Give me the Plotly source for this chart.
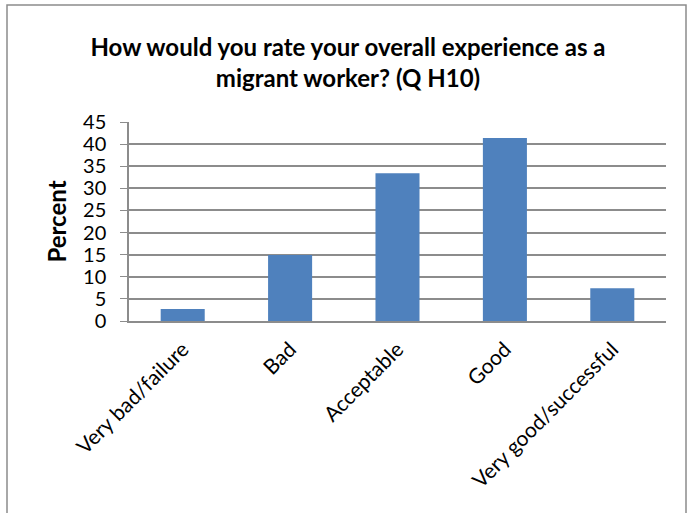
import plotly.graph_objects as go

categories = ["Very bad/failure", "Bad", "Acceptable", "Good", "Very good/successful"]
percent = [2.7, 14.9, 33.4, 41.4, 7.4]
y_ticks = [0, 5, 10, 15, 20, 25, 30, 35, 40, 45]

W, H = 687, 513
ml, mr, mt, mb = 129, 21, 122, 192

fig = go.Figure(go.Bar(x=categories, y=percent, marker=dict(color="#4F81BD", line=dict(width=0)),
                       hoverinfo="skip"))

pw = W - ml - mr
ph = H - mt - mb
# outer chart frame
fig.add_shape(type="rect", xref="paper", yref="paper",
              x0=(7 - ml) / pw, x1=(686 - ml) / pw,
              y0=-(mb + 20) / ph, y1=(H - 5 - mb) / ph,
              line=dict(color="#8C8C8C", width=1.5), fillcolor="rgba(0,0,0,0)", layer="below")

font_family = "Lato, Open Sans, sans-serif"
fig.update_layout(
    width=W, height=H,
    margin=dict(l=ml, r=mr, t=mt, b=mb, autoexpand=False),
    paper_bgcolor="white", plot_bgcolor="white",
    bargap=0.59,
    showlegend=False,
    title=dict(text="<b>How would you rate your overall experience as a<br>migrant worker? (Q H10)</b>",
               x=(348 / W), xanchor="center", xref="container", y=(H - 56) / H, yanchor="middle",
               font=dict(family=font_family, size=24, color="black")),
    font=dict(family=font_family, color="black"),
)
fig.update_xaxes(tickangle=-45, tickfont=dict(size=21, family=font_family), showgrid=False,
                 showline=True, linecolor="#8C8C8C", linewidth=1.5, ticks="", fixedrange=True,
                 automargin=False, ticklabelstandoff=6)
fig.update_yaxes(range=[0, 45], tickvals=y_ticks, tickfont=dict(size=20, family=font_family),
                 showgrid=True, gridcolor="#8C8C8C", gridwidth=1.5, zeroline=False,
                 showline=True, linecolor="#8C8C8C", linewidth=1.5, ticks="outside", ticklen=7,
                 tickcolor="#8C8C8C", automargin=False, ticklabelstandoff=10, fixedrange=True,
                 title=dict(text="<b>Percent</b>", font=dict(size=24, family=font_family), standoff=10))

fig.write_html("out.html", config={"displayModeBar": False},
               post_script="document.body.style.margin='0';")
